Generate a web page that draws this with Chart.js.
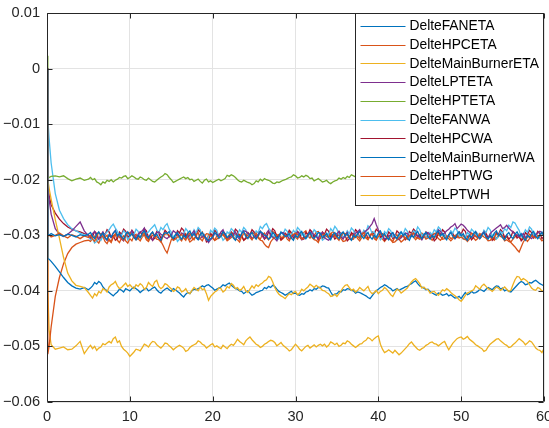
<!DOCTYPE html>
<html><head><meta charset="utf-8">
<script src="https://cdn.jsdelivr.net/npm/chart.js@4/dist/chart.umd.min.js"></script>
<style>html,body{margin:0;padding:0;background:#fff;}#wrap{width:549px;height:428px;}</style>
</head><body><div id="wrap"><canvas id="c" width="549" height="428"></canvas></div>
<script>
const xs = [0,0.1,0.25,0.5,1,1.5,2,2.5,3,3.5,4,4.5,5,
5.25,5.5,5.75,6,6.25,6.5,6.75,7,7.25,7.5,
7.75,8,8.25,8.5,8.75,9,9.25,9.5,9.75,10,
10.25,10.5,10.75,11,11.25,11.5,11.75,12,12.25,12.5,
12.75,13,13.25,13.5,13.75,14,14.25,14.5,14.75,15,
15.25,15.5,15.75,16,16.25,16.5,16.75,17,17.25,17.5,
17.75,18,18.25,18.5,18.75,19,19.25,19.5,19.75,20,
20.25,20.5,20.75,21,21.25,21.5,21.75,22,22.25,22.5,
22.75,23,23.25,23.5,23.75,24,24.25,24.5,24.75,25,
25.25,25.5,25.75,26,26.25,26.5,26.75,27,27.25,27.5,
27.75,28,28.25,28.5,28.75,29,29.25,29.5,29.75,30,
30.25,30.5,30.75,31,31.25,31.5,31.75,32,32.25,32.5,
32.75,33,33.25,33.5,33.75,34,34.25,34.5,34.75,35,
35.25,35.5,35.75,36,36.25,36.5,36.75,37,37.25,37.5,
37.75,38,38.25,38.5,38.75,39,39.25,39.5,39.75,40,
40.25,40.5,40.75,41,41.25,41.5,41.75,42,42.25,42.5,
42.75,43,43.25,43.5,43.75,44,44.25,44.5,44.75,45,
45.25,45.5,45.75,46,46.25,46.5,46.75,47,47.25,47.5,
47.75,48,48.25,48.5,48.75,49,49.25,49.5,49.75,50,
50.25,50.5,50.75,51,51.25,51.5,51.75,52,52.25,52.5,
52.75,53,53.25,53.5,53.75,54,54.25,54.5,54.75,55,
55.25,55.5,55.75,56,56.25,56.5,56.75,57,57.25,57.5,
57.75,58,58.25,58.5,58.75,59,59.25,59.5,59.75,60];

const seriesNames = ['DelteFANETA','DelteHPCETA','DelteMainBurnerETA','DelteLPTETA','DelteHPTETA','DelteFANWA','DelteHPCWA','DelteMainBurnerWA','DelteHPTWG','DelteLPTWH'];

const deltaFANETA = [0,-0.0298,-0.0300,-0.0297,-0.0301,-0.0299,-0.0302,-0.0298,-0.0300,-0.0303,-0.0299,-0.0301,-0.0298,
-0.0295,-0.0302,-0.0306,-0.0298,-0.0294,-0.0301,-0.0296,-0.0304,-0.0308,-0.0299,
-0.0303,-0.0296,-0.0292,-0.0301,-0.0297,-0.0303,-0.0307,-0.0298,-0.0294,-0.0301,
-0.0297,-0.0304,-0.0308,-0.0300,-0.0304,-0.0296,-0.0292,-0.0301,-0.0305,-0.0298,
-0.0294,-0.0302,-0.0298,-0.0305,-0.0309,-0.0299,-0.0295,-0.0297,-0.0293,-0.0302,
-0.0306,-0.0299,-0.0295,-0.0303,-0.0307,-0.0300,-0.0304,-0.0296,-0.0292,-0.0301,
-0.0297,-0.0304,-0.0308,-0.0299,-0.0295,-0.0302,-0.0306,-0.0310,-0.0306,-0.0303,
-0.0295,-0.0299,-0.0305,-0.0302,-0.0294,-0.0298,-0.0304,-0.0301,-0.0297,-0.0305,
-0.0309,-0.0300,-0.0304,-0.0297,-0.0293,-0.0302,-0.0306,-0.0299,-0.0295,-0.0303,
-0.0307,-0.0300,-0.0293,-0.0296,-0.0300,-0.0301,-0.0307,-0.0304,-0.0295,-0.0299,
-0.0306,-0.0302,-0.0294,-0.0298,-0.0302,-0.0301,-0.0297,-0.0305,-0.0309,-0.0300,
-0.0304,-0.0297,-0.0293,-0.0302,-0.0306,-0.0299,-0.0295,-0.0303,-0.0306,-0.0300,
-0.0295,-0.0296,-0.0304,-0.0301,-0.0297,-0.0304,-0.0308,-0.0299,-0.0295,-0.0302,
-0.0306,-0.0298,-0.0294,-0.0301,-0.0297,-0.0305,-0.0309,-0.0300,-0.0304,-0.0297,
-0.0293,-0.0302,-0.0306,-0.0299,-0.0295,-0.0303,-0.0307,-0.0300,-0.0304,-0.0296,
-0.0292,-0.0301,-0.0297,-0.0304,-0.0308,-0.0299,-0.0295,-0.0302,-0.0306,-0.0298,
-0.0294,-0.0301,-0.0297,-0.0305,-0.0309,-0.0300,-0.0304,-0.0297,-0.0293,-0.0302,
-0.0306,-0.0299,-0.0295,-0.0303,-0.0307,-0.0300,-0.0304,-0.0296,-0.0292,-0.0301,
-0.0297,-0.0304,-0.0308,-0.0299,-0.0295,-0.0302,-0.0306,-0.0298,-0.0294,-0.0301,
-0.0297,-0.0305,-0.0309,-0.0300,-0.0304,-0.0297,-0.0293,-0.0302,-0.0306,-0.0299,
-0.0295,-0.0303,-0.0307,-0.0300,-0.0304,-0.0296,-0.0292,-0.0301,-0.0297,-0.0304,
-0.0308,-0.0299,-0.0295,-0.0302,-0.0306,-0.0298,-0.0294,-0.0301,-0.0297,-0.0305,
-0.0309,-0.0300,-0.0304,-0.0297,-0.0293,-0.0302,-0.0306,-0.0299,-0.0295,-0.0303];

const deltaHPCETA = [0,-0.0302,-0.0299,-0.0303,-0.0300,-0.0296,-0.0301,-0.0305,-0.0299,-0.0302,-0.0306,-0.0301,-0.0304,
-0.0300,-0.0307,-0.0311,-0.0302,-0.0295,-0.0298,-0.0303,-0.0304,-0.0300,-0.0309,
-0.0313,-0.0303,-0.0297,-0.0299,-0.0304,-0.0305,-0.0309,-0.0301,-0.0295,-0.0296,
-0.0299,-0.0302,-0.0308,-0.0306,-0.0303,-0.0300,-0.0296,-0.0304,-0.0308,-0.0299,
-0.0295,-0.0303,-0.0307,-0.0308,-0.0312,-0.0302,-0.0298,-0.0297,-0.0300,-0.0303,
-0.0309,-0.0307,-0.0303,-0.0301,-0.0298,-0.0305,-0.0309,-0.0299,-0.0296,-0.0304,
-0.0308,-0.0300,-0.0295,-0.0306,-0.0310,-0.0302,-0.0297,-0.0298,-0.0301,-0.0303,
-0.0309,-0.0307,-0.0303,-0.0301,-0.0297,-0.0304,-0.0308,-0.0299,-0.0296,-0.0303,
-0.0307,-0.0308,-0.0312,-0.0302,-0.0297,-0.0298,-0.0301,-0.0304,-0.0308,-0.0300,
-0.0296,-0.0305,-0.0309,-0.0310,-0.0316,-0.0320,-0.0322,-0.0312,-0.0307,-0.0304,
-0.0300,-0.0299,-0.0304,-0.0303,-0.0299,-0.0307,-0.0310,-0.0301,-0.0298,-0.0296,
-0.0299,-0.0302,-0.0307,-0.0306,-0.0302,-0.0300,-0.0296,-0.0304,-0.0308,-0.0309,
-0.0313,-0.0303,-0.0299,-0.0298,-0.0302,-0.0304,-0.0297,-0.0300,-0.0302,-0.0305,
-0.0309,-0.0301,-0.0296,-0.0297,-0.0300,-0.0303,-0.0308,-0.0307,-0.0300,-0.0302,
-0.0306,-0.0298,-0.0295,-0.0304,-0.0307,-0.0300,-0.0297,-0.0306,-0.0309,-0.0302,
-0.0299,-0.0297,-0.0301,-0.0303,-0.0306,-0.0308,-0.0313,-0.0312,-0.0308,-0.0305,
-0.0301,-0.0300,-0.0306,-0.0304,-0.0300,-0.0299,-0.0296,-0.0303,-0.0305,-0.0307,
-0.0303,-0.0301,-0.0307,-0.0305,-0.0302,-0.0300,-0.0297,-0.0296,-0.0299,-0.0302,
-0.0307,-0.0306,-0.0303,-0.0301,-0.0306,-0.0304,-0.0300,-0.0299,-0.0305,-0.0303,
-0.0306,-0.0308,-0.0304,-0.0302,-0.0296,-0.0298,-0.0302,-0.0304,-0.0297,-0.0300,
-0.0303,-0.0305,-0.0310,-0.0309,-0.0306,-0.0303,-0.0298,-0.0299,-0.0302,-0.0304,
-0.0310,-0.0308,-0.0311,-0.0313,-0.0317,-0.0321,-0.0326,-0.0330,-0.0321,-0.0312,
-0.0307,-0.0304,-0.0298,-0.0300,-0.0303,-0.0305,-0.0301,-0.0301,-0.0295,-0.0297];

const deltaMainBurnerETA = [0,-0.0200,-0.0215,-0.0235,-0.0272,-0.0305,-0.0340,-0.0368,-0.0382,-0.0390,-0.0392,-0.0394,-0.0403,
-0.0408,-0.0413,-0.0405,-0.0409,-0.0401,-0.0404,-0.0396,-0.0398,-0.0402,-0.0393,
-0.0389,-0.0387,-0.0383,-0.0391,-0.0396,-0.0394,-0.0390,-0.0386,-0.0392,-0.0389,
-0.0393,-0.0396,-0.0389,-0.0392,-0.0387,-0.0390,-0.0397,-0.0394,-0.0385,-0.0389,
-0.0392,-0.0384,-0.0381,-0.0392,-0.0396,-0.0393,-0.0387,-0.0389,-0.0393,-0.0396,
-0.0401,-0.0399,-0.0393,-0.0395,-0.0402,-0.0400,-0.0396,-0.0403,-0.0405,-0.0399,
-0.0394,-0.0397,-0.0400,-0.0393,-0.0398,-0.0396,-0.0405,-0.0417,-0.0410,-0.0406,
-0.0402,-0.0400,-0.0395,-0.0396,-0.0402,-0.0399,-0.0392,-0.0395,-0.0387,-0.0390,
-0.0396,-0.0394,-0.0399,-0.0397,-0.0392,-0.0400,-0.0403,-0.0397,-0.0391,-0.0395,
-0.0389,-0.0392,-0.0388,-0.0386,-0.0382,-0.0380,-0.0374,-0.0376,-0.0384,-0.0394,
-0.0401,-0.0406,-0.0409,-0.0411,-0.0414,-0.0409,-0.0405,-0.0407,-0.0403,-0.0401,
-0.0407,-0.0404,-0.0397,-0.0400,-0.0396,-0.0393,-0.0388,-0.0391,-0.0394,-0.0390,
-0.0393,-0.0395,-0.0399,-0.0400,-0.0403,-0.0405,-0.0410,-0.0409,-0.0406,-0.0410,
-0.0405,-0.0400,-0.0394,-0.0390,-0.0389,-0.0394,-0.0399,-0.0397,-0.0402,-0.0399,
-0.0394,-0.0397,-0.0400,-0.0396,-0.0392,-0.0401,-0.0405,-0.0403,-0.0399,-0.0405,
-0.0401,-0.0399,-0.0394,-0.0397,-0.0402,-0.0407,-0.0410,-0.0403,-0.0397,-0.0399,
-0.0404,-0.0401,-0.0398,-0.0395,-0.0389,-0.0384,-0.0380,-0.0378,-0.0382,-0.0387,
-0.0395,-0.0393,-0.0397,-0.0398,-0.0404,-0.0402,-0.0401,-0.0405,-0.0408,-0.0403,
-0.0398,-0.0400,-0.0396,-0.0399,-0.0403,-0.0406,-0.0409,-0.0412,-0.0416,-0.0419,
-0.0414,-0.0408,-0.0404,-0.0402,-0.0400,-0.0398,-0.0391,-0.0394,-0.0397,-0.0391,
-0.0388,-0.0392,-0.0396,-0.0398,-0.0401,-0.0397,-0.0393,-0.0395,-0.0399,-0.0396,
-0.0393,-0.0397,-0.0401,-0.0399,-0.0389,-0.0380,-0.0374,-0.0375,-0.0381,-0.0378,
-0.0380,-0.0383,-0.0389,-0.0395,-0.0398,-0.0399,-0.0394,-0.0396,-0.0400,-0.0402];

const deltaLPTETA = [0,-0.0210,-0.0235,-0.0262,-0.0288,-0.0298,-0.0302,-0.0298,-0.0292,-0.0284,-0.0276,-0.0292,-0.0301,
-0.0304,-0.0297,-0.0293,-0.0303,-0.0307,-0.0299,-0.0294,-0.0305,-0.0309,-0.0300,
-0.0304,-0.0296,-0.0291,-0.0302,-0.0298,-0.0307,-0.0310,-0.0301,-0.0295,-0.0297,
-0.0292,-0.0303,-0.0307,-0.0298,-0.0294,-0.0292,-0.0287,-0.0300,-0.0304,-0.0305,
-0.0309,-0.0299,-0.0295,-0.0294,-0.0298,-0.0301,-0.0304,-0.0306,-0.0302,-0.0300,
-0.0292,-0.0295,-0.0299,-0.0301,-0.0296,-0.0298,-0.0305,-0.0303,-0.0299,-0.0297,
-0.0292,-0.0302,-0.0307,-0.0306,-0.0302,-0.0300,-0.0306,-0.0313,-0.0308,-0.0304,
-0.0296,-0.0298,-0.0301,-0.0294,-0.0290,-0.0300,-0.0304,-0.0305,-0.0301,-0.0299,
-0.0294,-0.0303,-0.0307,-0.0297,-0.0292,-0.0293,-0.0297,-0.0300,-0.0306,-0.0304,
-0.0301,-0.0298,-0.0293,-0.0302,-0.0306,-0.0296,-0.0291,-0.0301,-0.0303,-0.0306,
-0.0310,-0.0300,-0.0296,-0.0295,-0.0299,-0.0301,-0.0307,-0.0304,-0.0300,-0.0298,
-0.0294,-0.0303,-0.0308,-0.0307,-0.0302,-0.0301,-0.0294,-0.0296,-0.0299,-0.0302,
-0.0306,-0.0298,-0.0295,-0.0304,-0.0307,-0.0309,-0.0305,-0.0302,-0.0300,-0.0297,
-0.0293,-0.0303,-0.0307,-0.0299,-0.0295,-0.0305,-0.0308,-0.0300,-0.0296,-0.0294,
-0.0290,-0.0299,-0.0296,-0.0292,-0.0289,-0.0284,-0.0279,-0.0270,-0.0281,-0.0290,
-0.0296,-0.0300,-0.0307,-0.0305,-0.0301,-0.0299,-0.0296,-0.0303,-0.0306,-0.0308,
-0.0304,-0.0301,-0.0296,-0.0297,-0.0301,-0.0302,-0.0296,-0.0299,-0.0302,-0.0304,
-0.0308,-0.0300,-0.0296,-0.0295,-0.0299,-0.0301,-0.0297,-0.0298,-0.0290,-0.0293,
-0.0298,-0.0296,-0.0292,-0.0289,-0.0285,-0.0283,-0.0279,-0.0288,-0.0284,-0.0280,
-0.0282,-0.0286,-0.0291,-0.0294,-0.0297,-0.0300,-0.0302,-0.0304,-0.0300,-0.0298,
-0.0294,-0.0302,-0.0305,-0.0297,-0.0293,-0.0290,-0.0287,-0.0284,-0.0281,-0.0288,
-0.0286,-0.0282,-0.0287,-0.0291,-0.0294,-0.0298,-0.0300,-0.0303,-0.0300,-0.0297,
-0.0304,-0.0301,-0.0303,-0.0306,-0.0302,-0.0299,-0.0296,-0.0293,-0.0295,-0.0297];

const deltaHPTETA = [0.0023,-0.0198,-0.0196,-0.0194,-0.0193,-0.0195,-0.0193,-0.0198,-0.0202,-0.0199,-0.0197,-0.0201,-0.0199,
-0.0196,-0.0200,-0.0198,-0.0204,-0.0206,-0.0209,-0.0204,-0.0206,-0.0201,-0.0203,
-0.0200,-0.0204,-0.0201,-0.0199,-0.0196,-0.0197,-0.0194,-0.0193,-0.0198,-0.0196,
-0.0193,-0.0195,-0.0198,-0.0199,-0.0195,-0.0197,-0.0200,-0.0201,-0.0197,-0.0200,
-0.0203,-0.0204,-0.0201,-0.0198,-0.0195,-0.0193,-0.0189,-0.0191,-0.0196,-0.0200,
-0.0205,-0.0203,-0.0201,-0.0199,-0.0197,-0.0195,-0.0198,-0.0196,-0.0200,-0.0199,
-0.0203,-0.0201,-0.0199,-0.0203,-0.0206,-0.0201,-0.0199,-0.0204,-0.0202,-0.0205,
-0.0203,-0.0201,-0.0199,-0.0202,-0.0200,-0.0198,-0.0192,-0.0194,-0.0191,-0.0193,
-0.0196,-0.0200,-0.0203,-0.0204,-0.0201,-0.0203,-0.0205,-0.0206,-0.0209,-0.0207,
-0.0202,-0.0204,-0.0199,-0.0202,-0.0198,-0.0200,-0.0201,-0.0203,-0.0206,-0.0207,
-0.0204,-0.0205,-0.0203,-0.0201,-0.0200,-0.0198,-0.0196,-0.0195,-0.0191,-0.0193,
-0.0197,-0.0196,-0.0193,-0.0195,-0.0192,-0.0194,-0.0198,-0.0197,-0.0202,-0.0200,
-0.0198,-0.0201,-0.0204,-0.0203,-0.0201,-0.0205,-0.0207,-0.0204,-0.0202,-0.0201,
-0.0197,-0.0199,-0.0196,-0.0198,-0.0194,-0.0196,-0.0191,-0.0193,-0.0195,-0.0197,
-0.0202,-0.0200,-0.0198,-0.0202,-0.0200,-0.0199,-0.0195,-0.0197,-0.0199,-0.0201,
-0.0205,-0.0203,-0.0198,-0.0200,-0.0195,-0.0197,-0.0201,-0.0199,-0.0204,-0.0202,
-0.0200,-0.0204,-0.0202,-0.0201,-0.0197,-0.0198,-0.0194,-0.0196,-0.0201,-0.0199,
-0.0198,-0.0202,-0.0203,-0.0200,-0.0197,-0.0197,-0.0201,-0.0199,-0.0201,-0.0203,
-0.0206,-0.0205,-0.0199,-0.0201,-0.0196,-0.0198,-0.0202,-0.0200,-0.0204,-0.0202,
-0.0197,-0.0199,-0.0194,-0.0196,-0.0200,-0.0198,-0.0203,-0.0201,-0.0205,-0.0203,
-0.0198,-0.0200,-0.0197,-0.0198,-0.0203,-0.0201,-0.0206,-0.0204,-0.0200,-0.0202,
-0.0196,-0.0199,-0.0195,-0.0197,-0.0202,-0.0200,-0.0204,-0.0202,-0.0197,-0.0199,
-0.0194,-0.0197,-0.0199,-0.0201,-0.0205,-0.0203,-0.0198,-0.0200,-0.0196,-0.0198];

const deltaFANWA = [0,-0.0090,-0.0125,-0.0170,-0.0225,-0.0255,-0.0270,-0.0281,-0.0288,-0.0292,-0.0296,-0.0299,-0.0302,
-0.0308,-0.0306,-0.0314,-0.0311,-0.0305,-0.0309,-0.0302,-0.0298,-0.0294,-0.0290,
-0.0284,-0.0280,-0.0287,-0.0293,-0.0304,-0.0300,-0.0292,-0.0296,-0.0308,-0.0303,
-0.0295,-0.0299,-0.0289,-0.0293,-0.0305,-0.0301,-0.0292,-0.0297,-0.0294,-0.0289,
-0.0285,-0.0281,-0.0290,-0.0296,-0.0286,-0.0290,-0.0283,-0.0279,-0.0289,-0.0294,
-0.0304,-0.0300,-0.0311,-0.0307,-0.0296,-0.0298,-0.0288,-0.0293,-0.0305,-0.0301,
-0.0290,-0.0296,-0.0286,-0.0290,-0.0302,-0.0299,-0.0308,-0.0303,-0.0291,-0.0295,
-0.0287,-0.0291,-0.0303,-0.0300,-0.0309,-0.0305,-0.0294,-0.0297,-0.0288,-0.0292,
-0.0303,-0.0299,-0.0290,-0.0295,-0.0286,-0.0290,-0.0301,-0.0298,-0.0307,-0.0302,
-0.0292,-0.0296,-0.0284,-0.0288,-0.0282,-0.0279,-0.0287,-0.0292,-0.0304,-0.0300,
-0.0309,-0.0306,-0.0295,-0.0298,-0.0289,-0.0293,-0.0303,-0.0299,-0.0291,-0.0296,
-0.0286,-0.0290,-0.0300,-0.0297,-0.0306,-0.0303,-0.0295,-0.0299,-0.0290,-0.0294,
-0.0305,-0.0300,-0.0309,-0.0306,-0.0296,-0.0299,-0.0288,-0.0293,-0.0284,-0.0289,
-0.0299,-0.0296,-0.0305,-0.0301,-0.0292,-0.0297,-0.0287,-0.0291,-0.0302,-0.0298,
-0.0306,-0.0302,-0.0291,-0.0295,-0.0283,-0.0287,-0.0297,-0.0293,-0.0304,-0.0300,
-0.0308,-0.0304,-0.0293,-0.0297,-0.0288,-0.0292,-0.0303,-0.0299,-0.0309,-0.0305,
-0.0294,-0.0298,-0.0288,-0.0293,-0.0304,-0.0300,-0.0292,-0.0296,-0.0285,-0.0290,
-0.0301,-0.0297,-0.0306,-0.0303,-0.0295,-0.0299,-0.0290,-0.0294,-0.0285,-0.0289,
-0.0300,-0.0297,-0.0306,-0.0302,-0.0292,-0.0296,-0.0287,-0.0291,-0.0302,-0.0298,
-0.0307,-0.0304,-0.0295,-0.0299,-0.0289,-0.0293,-0.0301,-0.0297,-0.0305,-0.0301,
-0.0291,-0.0295,-0.0286,-0.0290,-0.0301,-0.0298,-0.0307,-0.0303,-0.0293,-0.0297,
-0.0288,-0.0292,-0.0282,-0.0286,-0.0276,-0.0278,-0.0285,-0.0291,-0.0303,-0.0299,
-0.0290,-0.0295,-0.0285,-0.0289,-0.0300,-0.0297,-0.0306,-0.0302,-0.0294,-0.0298];

const deltaHPCWA = [0,-0.0215,-0.0228,-0.0245,-0.0260,-0.0271,-0.0279,-0.0285,-0.0289,-0.0292,-0.0294,-0.0297,-0.0299,
-0.0306,-0.0302,-0.0293,-0.0297,-0.0307,-0.0303,-0.0295,-0.0299,-0.0290,-0.0294,
-0.0304,-0.0301,-0.0309,-0.0306,-0.0294,-0.0298,-0.0289,-0.0293,-0.0304,-0.0300,
-0.0291,-0.0296,-0.0307,-0.0303,-0.0294,-0.0298,-0.0288,-0.0292,-0.0304,-0.0300,
-0.0309,-0.0305,-0.0293,-0.0297,-0.0305,-0.0301,-0.0291,-0.0295,-0.0303,-0.0299,
-0.0308,-0.0304,-0.0292,-0.0296,-0.0287,-0.0291,-0.0302,-0.0298,-0.0307,-0.0303,
-0.0296,-0.0300,-0.0290,-0.0294,-0.0303,-0.0299,-0.0312,-0.0309,-0.0297,-0.0301,
-0.0291,-0.0295,-0.0305,-0.0300,-0.0293,-0.0297,-0.0307,-0.0303,-0.0294,-0.0298,
-0.0289,-0.0293,-0.0303,-0.0300,-0.0309,-0.0305,-0.0295,-0.0299,-0.0290,-0.0294,
-0.0305,-0.0301,-0.0293,-0.0297,-0.0307,-0.0303,-0.0294,-0.0298,-0.0288,-0.0292,
-0.0303,-0.0299,-0.0308,-0.0304,-0.0296,-0.0300,-0.0291,-0.0295,-0.0305,-0.0301,
-0.0293,-0.0297,-0.0307,-0.0303,-0.0295,-0.0299,-0.0290,-0.0294,-0.0304,-0.0300,
-0.0309,-0.0305,-0.0294,-0.0298,-0.0289,-0.0293,-0.0303,-0.0299,-0.0307,-0.0303,
-0.0293,-0.0297,-0.0305,-0.0301,-0.0310,-0.0306,-0.0295,-0.0299,-0.0290,-0.0294,
-0.0304,-0.0300,-0.0292,-0.0296,-0.0306,-0.0302,-0.0294,-0.0298,-0.0289,-0.0293,
-0.0304,-0.0300,-0.0309,-0.0305,-0.0294,-0.0298,-0.0306,-0.0302,-0.0292,-0.0296,
-0.0304,-0.0300,-0.0308,-0.0304,-0.0293,-0.0297,-0.0289,-0.0293,-0.0303,-0.0299,
-0.0307,-0.0303,-0.0294,-0.0298,-0.0305,-0.0301,-0.0310,-0.0306,-0.0295,-0.0299,
-0.0290,-0.0294,-0.0304,-0.0300,-0.0293,-0.0297,-0.0306,-0.0302,-0.0294,-0.0298,
-0.0289,-0.0293,-0.0304,-0.0300,-0.0308,-0.0304,-0.0294,-0.0298,-0.0306,-0.0302,
-0.0292,-0.0296,-0.0305,-0.0301,-0.0309,-0.0305,-0.0295,-0.0299,-0.0290,-0.0294,
-0.0304,-0.0300,-0.0307,-0.0303,-0.0293,-0.0297,-0.0305,-0.0301,-0.0310,-0.0306,
-0.0295,-0.0299,-0.0291,-0.0295,-0.0305,-0.0301,-0.0293,-0.0297,-0.0306,-0.0302];

const deltaMainBurnerWA = [0,-0.0342,-0.0343,-0.0347,-0.0356,-0.0366,-0.0376,-0.0385,-0.0391,-0.0395,-0.0397,-0.0394,-0.0398,
-0.0395,-0.0391,-0.0385,-0.0388,-0.0383,-0.0386,-0.0393,-0.0397,-0.0400,-0.0403,
-0.0406,-0.0409,-0.0405,-0.0402,-0.0397,-0.0399,-0.0402,-0.0396,-0.0398,-0.0400,
-0.0396,-0.0393,-0.0396,-0.0399,-0.0403,-0.0400,-0.0397,-0.0395,-0.0400,-0.0398,
-0.0395,-0.0393,-0.0398,-0.0402,-0.0404,-0.0400,-0.0397,-0.0395,-0.0398,-0.0401,
-0.0396,-0.0398,-0.0401,-0.0404,-0.0408,-0.0411,-0.0406,-0.0403,-0.0405,-0.0400,
-0.0397,-0.0398,-0.0396,-0.0394,-0.0391,-0.0393,-0.0390,-0.0389,-0.0392,-0.0395,
-0.0399,-0.0397,-0.0395,-0.0393,-0.0389,-0.0391,-0.0388,-0.0386,-0.0390,-0.0393,
-0.0396,-0.0397,-0.0400,-0.0401,-0.0405,-0.0402,-0.0400,-0.0404,-0.0408,-0.0406,
-0.0403,-0.0402,-0.0400,-0.0399,-0.0394,-0.0396,-0.0392,-0.0394,-0.0390,-0.0392,
-0.0397,-0.0401,-0.0403,-0.0405,-0.0408,-0.0406,-0.0403,-0.0401,-0.0405,-0.0404,
-0.0407,-0.0408,-0.0405,-0.0406,-0.0402,-0.0401,-0.0398,-0.0400,-0.0396,-0.0397,
-0.0394,-0.0394,-0.0391,-0.0392,-0.0394,-0.0395,-0.0402,-0.0408,-0.0406,-0.0405,
-0.0401,-0.0402,-0.0398,-0.0399,-0.0396,-0.0397,-0.0399,-0.0400,-0.0404,-0.0402,
-0.0403,-0.0405,-0.0407,-0.0409,-0.0412,-0.0414,-0.0409,-0.0404,-0.0400,-0.0397,
-0.0394,-0.0392,-0.0389,-0.0391,-0.0394,-0.0396,-0.0400,-0.0398,-0.0396,-0.0399,
-0.0397,-0.0395,-0.0393,-0.0392,-0.0389,-0.0387,-0.0384,-0.0382,-0.0387,-0.0391,
-0.0393,-0.0395,-0.0398,-0.0397,-0.0401,-0.0404,-0.0406,-0.0408,-0.0404,-0.0405,
-0.0408,-0.0407,-0.0405,-0.0409,-0.0407,-0.0410,-0.0413,-0.0412,-0.0410,-0.0414,
-0.0408,-0.0403,-0.0407,-0.0405,-0.0401,-0.0404,-0.0403,-0.0401,-0.0397,-0.0399,
-0.0401,-0.0397,-0.0394,-0.0396,-0.0398,-0.0394,-0.0391,-0.0392,-0.0397,-0.0395,
-0.0400,-0.0398,-0.0401,-0.0402,-0.0398,-0.0394,-0.0390,-0.0386,-0.0383,-0.0385,
-0.0389,-0.0388,-0.0385,-0.0386,-0.0383,-0.0381,-0.0384,-0.0387,-0.0389,-0.0391];

const deltaHPTWG = [0,-0.0514,-0.0500,-0.0465,-0.0410,-0.0376,-0.0351,-0.0333,-0.0322,-0.0316,-0.0313,-0.0310,-0.0309,
-0.0311,-0.0305,-0.0302,-0.0310,-0.0314,-0.0306,-0.0302,-0.0311,-0.0315,-0.0307,
-0.0311,-0.0303,-0.0299,-0.0309,-0.0313,-0.0305,-0.0301,-0.0310,-0.0314,-0.0306,
-0.0310,-0.0301,-0.0298,-0.0306,-0.0310,-0.0303,-0.0299,-0.0308,-0.0311,-0.0304,
-0.0300,-0.0299,-0.0303,-0.0305,-0.0311,-0.0318,-0.0326,-0.0332,-0.0320,-0.0308,
-0.0304,-0.0302,-0.0298,-0.0306,-0.0310,-0.0301,-0.0297,-0.0305,-0.0312,-0.0309,
-0.0305,-0.0303,-0.0307,-0.0298,-0.0294,-0.0304,-0.0308,-0.0300,-0.0296,-0.0305,
-0.0309,-0.0301,-0.0298,-0.0297,-0.0300,-0.0303,-0.0310,-0.0307,-0.0304,-0.0301,
-0.0298,-0.0296,-0.0299,-0.0302,-0.0309,-0.0306,-0.0303,-0.0300,-0.0295,-0.0297,
-0.0300,-0.0303,-0.0307,-0.0299,-0.0296,-0.0304,-0.0308,-0.0300,-0.0293,-0.0296,
-0.0299,-0.0302,-0.0309,-0.0306,-0.0302,-0.0300,-0.0294,-0.0297,-0.0300,-0.0303,
-0.0307,-0.0299,-0.0296,-0.0295,-0.0292,-0.0301,-0.0305,-0.0298,-0.0301,-0.0294,
-0.0293,-0.0300,-0.0306,-0.0302,-0.0297,-0.0303,-0.0298,-0.0293,-0.0299,-0.0303,
-0.0299,-0.0306,-0.0311,-0.0310,-0.0305,-0.0302,-0.0298,-0.0303,-0.0300,-0.0306,
-0.0310,-0.0304,-0.0300,-0.0305,-0.0308,-0.0301,-0.0297,-0.0303,-0.0306,-0.0299,
-0.0302,-0.0307,-0.0311,-0.0306,-0.0302,-0.0308,-0.0311,-0.0303,-0.0299,-0.0307,
-0.0312,-0.0309,-0.0304,-0.0307,-0.0301,-0.0298,-0.0303,-0.0308,-0.0304,-0.0300,
-0.0296,-0.0301,-0.0305,-0.0300,-0.0304,-0.0309,-0.0305,-0.0301,-0.0306,-0.0309,
-0.0304,-0.0299,-0.0303,-0.0306,-0.0310,-0.0306,-0.0301,-0.0304,-0.0300,-0.0297,
-0.0301,-0.0306,-0.0311,-0.0307,-0.0302,-0.0305,-0.0309,-0.0306,-0.0301,-0.0298,
-0.0295,-0.0301,-0.0305,-0.0300,-0.0304,-0.0309,-0.0305,-0.0301,-0.0297,-0.0301,
-0.0306,-0.0303,-0.0308,-0.0312,-0.0307,-0.0303,-0.0299,-0.0304,-0.0308,-0.0303,
-0.0306,-0.0311,-0.0306,-0.0302,-0.0298,-0.0304,-0.0300,-0.0305,-0.0310,-0.0307];

const deltaLPTWH = [0,-0.0400,-0.0470,-0.0497,-0.0505,-0.0503,-0.0501,-0.0506,-0.0505,-0.0499,-0.0491,-0.0513,-0.0502,
-0.0498,-0.0504,-0.0500,-0.0507,-0.0503,-0.0501,-0.0495,-0.0497,-0.0494,-0.0491,
-0.0494,-0.0486,-0.0483,-0.0493,-0.0490,-0.0500,-0.0505,-0.0508,-0.0512,-0.0518,
-0.0514,-0.0510,-0.0505,-0.0506,-0.0508,-0.0502,-0.0496,-0.0498,-0.0501,-0.0495,
-0.0491,-0.0492,-0.0497,-0.0500,-0.0503,-0.0499,-0.0494,-0.0495,-0.0499,-0.0502,
-0.0506,-0.0503,-0.0500,-0.0498,-0.0500,-0.0503,-0.0509,-0.0507,-0.0502,-0.0499,
-0.0497,-0.0495,-0.0490,-0.0492,-0.0496,-0.0498,-0.0503,-0.0500,-0.0497,-0.0495,
-0.0501,-0.0499,-0.0502,-0.0504,-0.0498,-0.0501,-0.0504,-0.0499,-0.0496,-0.0498,
-0.0493,-0.0487,-0.0491,-0.0494,-0.0497,-0.0490,-0.0486,-0.0483,-0.0488,-0.0492,
-0.0496,-0.0498,-0.0502,-0.0500,-0.0496,-0.0494,-0.0491,-0.0489,-0.0490,-0.0493,
-0.0499,-0.0496,-0.0493,-0.0498,-0.0501,-0.0504,-0.0508,-0.0506,-0.0501,-0.0496,
-0.0500,-0.0505,-0.0508,-0.0504,-0.0500,-0.0498,-0.0503,-0.0500,-0.0497,-0.0501,
-0.0498,-0.0496,-0.0499,-0.0496,-0.0501,-0.0498,-0.0492,-0.0494,-0.0497,-0.0494,
-0.0500,-0.0498,-0.0494,-0.0495,-0.0490,-0.0492,-0.0496,-0.0499,-0.0502,-0.0499,
-0.0496,-0.0495,-0.0491,-0.0489,-0.0484,-0.0486,-0.0490,-0.0486,-0.0483,-0.0481,
-0.0496,-0.0505,-0.0511,-0.0509,-0.0506,-0.0509,-0.0512,-0.0507,-0.0511,-0.0515,
-0.0512,-0.0508,-0.0504,-0.0500,-0.0495,-0.0492,-0.0497,-0.0501,-0.0505,-0.0507,
-0.0504,-0.0502,-0.0498,-0.0496,-0.0493,-0.0492,-0.0495,-0.0496,-0.0499,-0.0496,
-0.0493,-0.0491,-0.0499,-0.0506,-0.0500,-0.0494,-0.0490,-0.0486,-0.0484,-0.0483,
-0.0487,-0.0485,-0.0482,-0.0487,-0.0490,-0.0493,-0.0497,-0.0499,-0.0502,-0.0504,
-0.0509,-0.0507,-0.0501,-0.0496,-0.0493,-0.0490,-0.0487,-0.0486,-0.0490,-0.0493,
-0.0496,-0.0498,-0.0502,-0.0501,-0.0497,-0.0494,-0.0490,-0.0486,-0.0489,-0.0492,
-0.0497,-0.0494,-0.0490,-0.0492,-0.0497,-0.0503,-0.0506,-0.0507,-0.0511,-0.0504];

const xTicks = [0,10,20,30,40,50,60];
const yTicks = [-0.06,-0.05,-0.04,-0.03,-0.02,-0.01,0,0.01];

const seriesValues = [deltaFANETA,deltaHPCETA,deltaMainBurnerETA,deltaLPTETA,deltaHPTETA,deltaFANWA,deltaHPCWA,deltaMainBurnerWA,deltaHPTWG,deltaLPTWH];
const palette = ['#0072BD','#D95319','#EDB120','#7E2F8E','#77AC30','#4DBEEE','#A2142F','#0072BD','#D95319','#EDB120'];

const AXIS = '#262626';
const FONT = '"Liberation Sans", Arial, sans-serif';

const datasets = seriesValues.map((vals, k) => ({
  label: seriesNames[k],
  data: xs.map((x, i) => ({x: x, y: vals[i]})),
  borderColor: palette[k],
  backgroundColor: palette[k],
  borderWidth: 1.3,
  pointRadius: 0,
  tension: 0,
  fill: false
}));

const boxPlugin = {
  id: 'matlabBox',
  afterDatasetsDraw(chart) {
    const ctx = chart.ctx, a = chart.chartArea;
    const xs_ = chart.scales.x, ys_ = chart.scales.y;
    const L = Math.round(a.left) + 0.5, R = Math.round(a.right) - 0.5;
    const T = Math.round(a.top) + 0.5, B = Math.round(a.bottom) - 0.5;
    ctx.save();
    ctx.strokeStyle = AXIS;
    ctx.lineWidth = 1;
    ctx.beginPath();
    ctx.rect(L, T, R - L, B - T);
    const tl = 5;
    xTicks.forEach(v => {
      const p = Math.round(xs_.getPixelForValue(v)) + 0.5;
      ctx.moveTo(p, B); ctx.lineTo(p, B - tl);
      ctx.moveTo(p, T); ctx.lineTo(p, T + tl);
    });
    yTicks.forEach(v => {
      const p = Math.round(ys_.getPixelForValue(v)) + 0.5;
      ctx.moveTo(L, p); ctx.lineTo(L + tl, p);
      ctx.moveTo(R, p); ctx.lineTo(R - tl, p);
    });
    ctx.stroke();
    ctx.restore();
  }
};

const legendPlugin = {
  id: 'matlabLegend',
  afterDraw(chart) {
    const ctx = chart.ctx, a = chart.chartArea;
    const w = 188, rowH = 18.78;
    const right = Math.round(a.right) - 0.5;
    const left = right - w;
    const top = Math.round(a.top) + 0.5;
    const h = 192;
    ctx.save();
    ctx.fillStyle = '#ffffff';
    ctx.fillRect(left, top, w, h);
    ctx.strokeStyle = AXIS;
    ctx.lineWidth = 1;
    ctx.strokeRect(left, top, w, h);
    ctx.font = '13.8px ' + FONT;
    ctx.textBaseline = 'middle';
    ctx.textAlign = 'left';
    chart.data.datasets.forEach((ds, i) => {
      const y = top + 12.3 + i * rowH;
      ctx.strokeStyle = ds.borderColor;
      ctx.lineWidth = 1;
      ctx.beginPath();
      ctx.moveTo(left + 5, Math.round(y) + 0.5);
      ctx.lineTo(left + 50, Math.round(y) + 0.5);
      ctx.stroke();
      ctx.fillStyle = '#000000';
      ctx.fillText(ds.label, left + 54, y + 0.5);
    });
    ctx.restore();
  }
};

const fmt = v => {
  const r = Math.round(v * 100) / 100;
  return String(r).replace('-', '\u2212');
};

new Chart(document.getElementById('c'), {
  type: 'line',
  data: { datasets: datasets },
  options: {
    responsive: false,
    animation: false,
    events: [],
    layout: { padding: { top: 13, right: 5, left: 0, bottom: 0 } },
    plugins: { legend: { display: false }, tooltip: { enabled: false } },
    scales: {
      x: {
        type: 'linear', min: 0, max: 60,
        afterBuildTicks: s => { s.ticks = xTicks.map(v => ({value: v})); },
        afterFit: s => { s.height = 26; s.paddingLeft = 0; s.paddingRight = 0; },
        grid: { color: '#e3e3e3', drawTicks: false, lineWidth: 1 },
        border: { display: false },
        ticks: { padding: 6, color: AXIS, font: { family: FONT, size: 14.6 }, maxRotation: 0, callback: v => fmt(v) }
      },
      y: {
        type: 'linear', min: -0.06, max: 0.01,
        afterBuildTicks: s => { s.ticks = yTicks.map(v => ({value: v})); },
        afterFit: s => { s.width = 47; s.paddingTop = 0; s.paddingBottom = 0; },
        grid: { color: '#e3e3e3', drawTicks: false, lineWidth: 1 },
        border: { display: false },
        ticks: { padding: 7, color: AXIS, font: { family: FONT, size: 14.6 }, callback: v => fmt(v) }
      }
    }
  },
  plugins: [boxPlugin, legendPlugin]
});
</script>
</body></html>
